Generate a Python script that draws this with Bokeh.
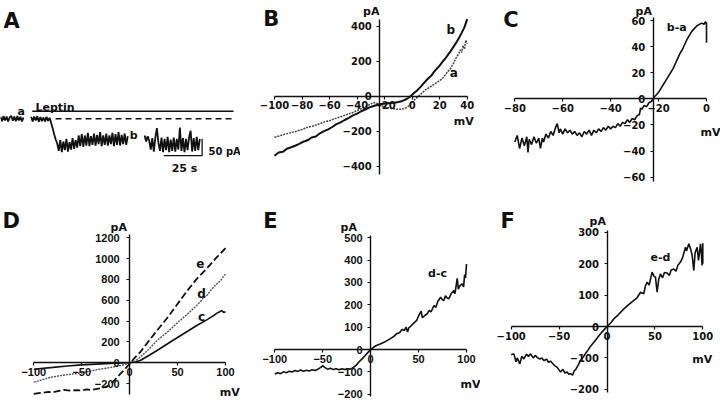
from bokeh.plotting import figure
from bokeh.models import Range1d, LinearAxis, FixedTicker, Label
from bokeh.layouts import column, row
from bokeh.embed import file_html
from bokeh.resources import INLINE

INK = "#111111"

# ---------------- DATA ----------------
# Panel A: holding current trace (time s, current pA)
A_seg1 = [(0, 6), (1, -7), (2, 8), (3, -5), (4, 7), (5, -8), (6, 4), (7, 9), (8, -6), (9, 7),
          (10, -7), (11, 8), (12, -5), (13, 6), (14, -8), (15, 4)]
A_seg2 = [(20, 6), (21, -8), (22, 7), (23, -5), (24, 8), (25, -9), (26, 5), (27, -7), (28, 4), (29, -8),
          (30, 6), (31, -6), (32, 3), (33, -12), (34, -28), (35, -46), (36, -62), (37, -74),
          (38, -96), (39, -64), (40, -100), (41, -68), (42, -94), (43, -60), (44, -98), (45, -70),
          (46, -92), (47, -58), (48, -90), (49, -64), (50, -86), (51, -50), (52, -82), (53, -46),
          (54, -84), (55, -50), (56, -80), (57, -42), (58, -82), (59, -52), (60, -78), (61, -44),
          (62, -80), (63, -48), (64, -76), (65, -40), (66, -82), (67, -50), (68, -78), (69, -44),
          (70, -80), (71, -50), (72, -76), (73, -42), (74, -82), (75, -46), (76, -78), (77, -40),
          (78, -80), (79, -48), (80, -76), (81, -44), (82, -78), (83, -52)]
A_seg3 = [(94, -50), (95, -68), (96, -52), (97, -66), (98, -92), (99, -58), (100, -98), (101, -56),
          (102, -28), (103, -72), (104, -96), (105, -56), (106, -100), (107, -60), (108, -94), (109, -54),
          (110, -100), (111, -62), (112, -96), (113, -56), (114, -98), (115, -60), (116, -92), (117, -26),
          (118, -96), (119, -58), (120, -100), (121, -60), (122, -94), (123, -56), (124, -36), (125, -98),
          (126, -58), (127, -96), (128, -54), (129, -94), (130, -60)]
A_leptin_t = [20.7, 152]
A_leptin_level = 22.8
A_baseline_t = [35.9, 152]
A_scale_s = 25
A_scale_pA = 50

# Panel B: I-V before (a) and during leptin (b)
B_b = [(-100, -340), (-97, -322), (-94, -318), (-91, -300), (-88, -292), (-85, -283), (-82, -272),
       (-79, -260), (-76, -252), (-73, -236), (-70, -230), (-67, -212), (-64, -200), (-61, -190),
       (-58, -176), (-55, -160), (-52, -150), (-49, -136), (-46, -124), (-43, -110), (-40, -100),
       (-37, -86), (-34, -76), (-31, -64), (-28, -56), (-25, -48), (-22, -44), (-19, -42), (-16, -39),
       (-13, -37), (-10, -33), (-7, -27), (-4, -16), (-2, -6), (0, 8), (2, 22), (4, 36), (6, 52),
       (8, 70), (10, 88), (12, 104), (14, 118), (16, 140), (18, 158), (20, 175), (22, 196), (24, 214),
       (26, 236), (28, 258), (30, 282), (32, 306), (34, 332), (36, 362), (38, 395), (40, 440)]
B_a = [(-100, -234), (-96, -226), (-92, -216), (-88, -208), (-84, -200), (-80, -190), (-76, -178),
       (-72, -170), (-68, -160), (-64, -148), (-60, -140), (-56, -128), (-52, -118), (-48, -106),
       (-44, -96), (-40, -82), (-36, -68), (-33, -56), (-30, -44), (-28, -36), (-26, -40), (-24, -50),
       (-21, -58), (-18, -65), (-15, -71), (-12, -74), (-9, -75), (-6, -72), (-4, -65), (-2, -52),
       (0, -36), (2, -18), (4, -4), (6, 10), (8, 24), (10, 38), (13, 52), (16, 68), (19, 84), (22, 100),
       (25, 132), (28, 160), (30, 188), (32, 220), (34, 245), (35, 265), (36, 250), (37, 290),
       (38, 270), (39, 320), (40, 300)]
B_xticks = [-100, -80, -60, -40, -20, 0, 20, 40]
B_yticks = [-400, -200, 0, 200, 400]

# Panel C: difference current b-a
C_ba = [(-80, -33), (-79, -28), (-78, -38), (-77, -30), (-76, -36), (-75, -29), (-74.5, -41), (-74, -31),
        (-73, -35), (-72, -29), (-71, -34), (-70, -30), (-69.3, -38), (-68.5, -30), (-68, -33),
        (-67, -27), (-66, -30), (-65, -25), (-64, -28), (-63, -22), (-62.3, -19), (-61.5, -26),
        (-61, -23), (-60, -27), (-59, -23), (-58, -26), (-57, -24), (-56, -27), (-55, -25), (-54, -28),
        (-53, -26), (-52, -29), (-51, -25), (-50, -27), (-49, -24), (-48, -28), (-47, -24), (-46, -26),
        (-45, -23), (-44, -25), (-43, -22), (-42, -24), (-41, -21), (-40, -23), (-39, -21), (-38, -22),
        (-37, -19), (-36, -21), (-35, -18), (-34, -19), (-33, -16), (-32, -18), (-31, -15), (-30, -16),
        (-29, -13), (-28, -12), (-27.5, -7), (-27, -8), (-26, -5), (-25, -6), (-24, -3), (-23, -2),
        (-22, 1), (-21, 3), (-20, 5), (-19, 8), (-18, 11), (-17, 14), (-16, 17), (-15, 20), (-14, 23),
        (-13, 27), (-12, 31), (-11, 35), (-10, 38), (-9, 42), (-8, 46), (-7, 49), (-6, 52), (-5, 54),
        (-4, 56), (-3, 57), (-2, 58), (-1, 57), (-0.5, 59), (0, 58), (0, 43)]
C_xticks = [-80, -60, -40, -20, 0]
C_yticks = [-60, -40, -20, 0, 20, 40, 60]

# Panel D: I-V curves c, d, e
D_c = [(-100, -62), (-80, -44), (-65, -30), (-50, -20), (-30, -10), (-15, -5), (0, 0), (5, 8), (11, 22),
       (20, 70), (28.6, 118), (40, 185), (49.5, 240), (60, 300), (70, 358), (80, 410), (88, 455),
       (91, 477), (94, 490), (96, 502), (98, 484), (100, 490)]
D_d = [(-100, -186), (-92, -165), (-83, -140), (-70, -120), (-60, -108), (-51, -98), (-40, -78),
       (-34, -66), (-25, -52), (-17, -40), (-8, -24), (-3, -12), (0, -4), (5, 12), (11, 54), (20, 130),
       (28.6, 214), (40, 300), (49.5, 381), (60, 465), (70, 550), (75, 600), (77, 630), (80, 640),
       (85, 700), (91, 758), (95, 790), (98, 830), (100, 850)]
D_e = [(-100, -298), (-95, -292), (-90, -286), (-85, -280), (-80, -284), (-75, -272), (-69, -259),
       (-62, -268), (-56, -262), (-51, -266), (-45, -256), (-40, -260), (-34, -250), (-28, -240),
       (-23.5, -227), (-18, -190), (-13, -138), (-9, -100), (-6, -74), (-3, -40), (0, -10), (5, 45),
       (11, 102), (20, 210), (28.6, 310), (40, 440), (49.5, 560), (60, 690), (70, 806), (80, 900),
       (91, 1014), (100, 1100)]
D_xticks = [-100, -50, 0, 50, 100]
D_yticks = [-200, 0, 200, 400, 600, 800, 1000, 1200]

# Panel E: difference d-c
E_dc = [(-100, -110), (-97, -104), (-94, -108), (-91, -100), (-88, -104), (-85, -97), (-82, -101),
        (-79, -94), (-76, -98), (-73, -92), (-70, -97), (-67, -93), (-64, -96), (-61, -91), (-58, -94),
        (-55, -88), (-52, -80), (-50, -72), (-48, -80), (-45, -88), (-42, -84), (-39, -90), (-36, -86),
        (-33, -91), (-30, -86), (-27, -90), (-24, -86), (-21, -88), (-18, -80), (-15, -70), (-12, -55),
        (-9, -42), (-6, -28), (-3, -14), (0, 0), (3, 10), (6, 18), (10, 25), (14, 32), (18, 42),
        (21, 50), (24, 58), (27, 70), (30, 75), (33, 90), (35, 85), (37, 100), (38.5, 78), (40, 98),
        (42, 105), (45, 118), (48, 130), (50, 150), (52.7, 172), (54, 142), (56, 150), (59, 160),
        (61, 175), (63, 168), (66, 197), (68, 188), (70, 215), (73, 234), (75, 222), (76.3, 219),
        (78, 240), (80, 230), (81.6, 227), (84, 250), (86.8, 264), (88, 250), (90.3, 318), (91.5, 270),
        (93, 285), (95.4, 294), (97, 280), (98, 335), (99, 320), (100, 383)]
E_xticks = [-100, -50, 0, 50, 100]
E_yticks = [-200, -100, 0, 100, 200, 300, 400, 500]

# Panel F: difference e-d
F_ed = [(-100, -90), (-97.2, -87), (-95, -112), (-93.7, -100), (-91, -119), (-89, -95), (-86.8, -103),
        (-84, -88), (-82, -95), (-79.8, -87), (-77, -100), (-75, -92), (-72.9, -98), (-70, -104),
        (-68, -100), (-65.9, -108), (-63, -104), (-61, -114), (-59, -110), (-56, -120), (-54, -126),
        (-52, -130), (-50, -138), (-48.5, -145), (-46, -136), (-44, -148), (-41.6, -145), (-40, -152),
        (-38.1, -150), (-36, -155), (-34, -140), (-32.9, -138), (-30, -122), (-27.7, -108), (-25, -98),
        (-22, -84), (-20, -76), (-17, -62), (-13.7, -50), (-10, -36), (-6.8, -23), (-3, -10), (0, 0),
        (4, 12), (7.1, 24), (12, 38), (17.6, 56), (22, 68), (28, 83), (31, 90), (35, 109), (38.4, 104),
        (40, 128), (41.9, 141), (44, 132), (47.1, 173), (49, 160), (50.6, 157), (52.3, 109), (54, 150),
        (55.8, 167), (58, 155), (60, 172), (62.8, 170), (65, 162), (67, 180), (69.7, 183), (72, 176),
        (74, 195), (76.7, 205), (79, 220), (81.9, 252), (83, 240), (85.4, 263), (87, 250), (88.9, 226),
        (90.6, 178), (92, 235), (94.1, 252), (95.5, 210), (97.6, 263), (98.5, 230), (99.3, 194),
        (100, 265), (100, 200)]
F_xticks = [-100, -50, 0, 50, 100]
F_yticks = [-200, -100, 0, 100, 200, 300]


def xs(pts):
    return [q[0] for q in pts]


def ys(pts):
    return [q[1] for q in pts]


# ---------------- HELPERS ----------------
def make_panel(X0, Y0, W, H, xcal, ycal):
    v1, p1, v2, p2 = xcal
    sx = (p2 - p1) / (v2 - v1)
    i1, q1, i2, q2 = ycal
    sy = (q2 - q1) / (i2 - i1)
    x0 = v1 + (X0 - p1) / sx
    x1 = v1 + (X0 + W - p1) / sx
    ytop = i1 + (Y0 - q1) / sy
    ybot = i1 + (Y0 + H - q1) / sy
    p = figure(width=W, height=H, x_range=Range1d(x0, x1), y_range=Range1d(ybot, ytop),
               output_backend="svg", toolbar_location=None, x_axis_type=None, y_axis_type=None,
               min_border=0)
    p.outline_line_color = None
    p.background_fill_color = "white"
    p.border_fill_color = "white"

    def conv(px, py):
        return v1 + (px - p1) / sx, i1 + (py - q1) / sy
    return p, conv


def add_text(p, conv, txt, px, py, size, align="left", font="DejaVu Sans"):
    x, y = conv(px, py)
    p.add_layout(Label(x=x, y=y, text=txt, text_font=font, text_font_size=f"{size}px",
                       text_font_style="bold", text_align=align, text_baseline="alphabetic",
                       text_color=INK))


def add_axes(p, xticks, xbounds, xcross, yticks, ybounds, ycross, font="DejaVu Sans", size=10,
             ystand=5, xstand=2):
    xa = LinearAxis(fixed_location=xcross, bounds=xbounds,
                    ticker=FixedTicker(ticks=xticks, minor_ticks=[]))
    ya = LinearAxis(fixed_location=ycross, bounds=ybounds,
                    ticker=FixedTicker(ticks=yticks, minor_ticks=[]))
    for ax, st in ((xa, xstand), (ya, ystand)):
        ax.axis_line_color = INK
        ax.axis_line_width = 1.4
        ax.major_tick_line_color = INK
        ax.major_tick_line_width = 1.2
        ax.major_tick_in = 0
        ax.major_tick_out = 3
        ax.minor_tick_line_color = None
        ax.major_label_text_font = font
        ax.major_label_text_font_size = f"{size}px"
        ax.major_label_text_font_style = "bold"
        ax.major_label_text_color = INK
        ax.major_label_standoff = st
    p.add_layout(xa, "below")
    p.add_layout(ya, "left")


# ---------------- PANEL A ----------------
pA, cA = make_panel(0, 0, 240, 200, (0, 0, 25, 38.33), (0, 118.3, -50, 135))
for seg in (A_seg1, A_seg2, A_seg3):
    pA.line(xs(seg), ys(seg), line_color=INK, line_width=1.8)
pA.line(A_leptin_t, [A_leptin_level, A_leptin_level], line_color=INK, line_width=1.4)
pA.line(A_baseline_t, [0, 0], line_color=INK, line_width=1.4, line_dash="6 4")
sb_t0 = A_seg3[-1][0] + 1.5
sb_i0 = -110
pA.line([sb_t0 - A_scale_s, sb_t0, sb_t0], [sb_i0, sb_i0, sb_i0 + A_scale_pA], line_color=INK,
        line_width=1.3)
add_text(pA, cA, "A", 3, 20, 21)
add_text(pA, cA, "a", 20.7, 111, 11, "center")
add_text(pA, cA, "b", 133.3, 135, 11, "center")
add_text(pA, cA, "Leptin", 35, 106.7, 11)
add_text(pA, cA, "50 pA", 208, 150.5, 10)
add_text(pA, cA, "25 s", 184, 168, 11, "center")

# ---------------- PANEL B ----------------
pB, cB = make_panel(240, 0, 240, 200, (-100, 274, 40, 466.7), (400, 25.7, -400, 165.7))
pB.line(xs(B_a), ys(B_a), line_color="#444444", line_width=1.5, line_dash="2 1")
pB.line(xs(B_b), ys(B_b), line_color=INK, line_width=2)
add_axes(pB, B_xticks, (-100, 40), 0, B_yticks, (-450, 440), -23.5)
add_text(pB, cB, "B", 262.7, 18.3, 21)
add_text(pB, cB, "pA", 370.7, 10.5, 11, "center")
add_text(pB, cB, "mV", 463.3, 120.7, 11, "center")
add_text(pB, cB, "b", 450.3, 29.3, 12, "center")
add_text(pB, cB, "a", 453.3, 72.7, 12, "center")

# ---------------- PANEL C ----------------
pC, cC = make_panel(480, 0, 240, 200, (-80, 514.3, 0, 706), (60, 20, -60, 176.7))
pC.line(xs(C_ba), ys(C_ba), line_color=INK, line_width=1.6)
add_axes(pC, C_xticks, (-80, 0), 0, C_yticks, (-63, 62), -22.2)
add_text(pC, cC, "C", 502.7, 19, 21)
add_text(pC, cC, "pA", 643.3, 10.7, 11, "center")
add_text(pC, cC, "mV", 710, 132.3, 11, "center")
add_text(pC, cC, "b-a", 676.3, 27.3, 11, "center")

# ---------------- PANEL D ----------------
pD, cD = make_panel(0, 200, 240, 200, (-100, 33.3, 100, 225), (0, 362.3, 1200, 237.3))
pD.line(xs(D_c), ys(D_c), line_color=INK, line_width=1.6)
pD.line(xs(D_d), ys(D_d), line_color="#555555", line_width=1.4, line_dash="2 1")
pD.line(xs(D_e), ys(D_e), line_color=INK, line_width=1.8, line_dash="7 3")
add_axes(pD, D_xticks, (-100, 100), 0, D_yticks, (-300, 1230), 0, font="Liberation Sans", size=11,
         ystand=7)
add_text(pD, cD, "D", 2, 220, 21)
add_text(pD, cD, "pA", 118.3, 227.3, 11, "center")
add_text(pD, cD, "mV", 229.3, 391.5, 11, "center")
add_text(pD, cD, "e", 199.7, 262.7, 12, "center")
add_text(pD, cD, "d", 201, 293.3, 12, "center")
add_text(pD, cD, "c", 201, 316.7, 12, "center")

# ---------------- PANEL E ----------------
pE, cE = make_panel(240, 200, 240, 200, (-100, 274.3, 100, 466), (0, 349, 500, 237.3))
pE.line(xs(E_dc), ys(E_dc), line_color=INK, line_width=1.6)
add_axes(pE, E_xticks, (-100, 100), 0, E_yticks, (-210, 510), 0, font="Liberation Sans", size=11)
add_text(pE, cE, "E", 262.7, 220, 21)
add_text(pE, cE, "pA", 348.3, 226.7, 11, "center")
add_text(pE, cE, "mV", 470, 384, 11, "center")
add_text(pE, cE, "d-c", 437, 273.3, 11, "center")

# ---------------- PANEL F ----------------
pF, cF = make_panel(480, 200, 240, 200, (-100, 510.7, 100, 702.3), (0, 326, 300, 231.7))
pF.line(xs(F_ed), ys(F_ed), line_color=INK, line_width=1.6)
add_axes(pF, F_xticks, (-100, 100), 0, F_yticks, (-210, 305), 0)
add_text(pF, cF, "F", 500, 220, 21)
add_text(pF, cF, "pA", 597.3, 220.7, 11, "center")
add_text(pF, cF, "mV", 701.7, 359.3, 11, "center")
add_text(pF, cF, "e-d", 660, 256.7, 11, "center")

layout = column(row(pA, pB, pC), row(pD, pE, pF))
open("out.html", "w").write(file_html(layout, INLINE))
